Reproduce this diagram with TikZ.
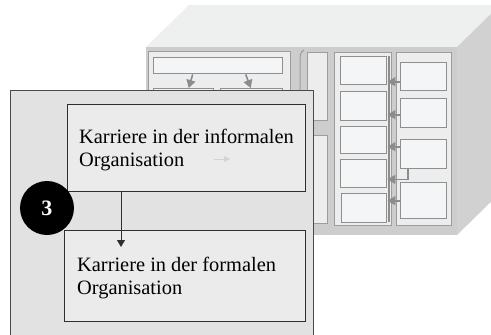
\documentclass[tikz,border=0pt]{standalone}
\usepackage{fontspec}
\setmainfont{Liberation Serif}
\usetikzlibrary{arrows.meta,positioning}
\definecolor{topgray}{HTML}{EEEFEF}
\definecolor{sidegray}{HTML}{D1D1D1}
\definecolor{facegray}{HTML}{CDCDCD}
\definecolor{panelfill}{HTML}{EDEDED}
\definecolor{framegray}{HTML}{9C9C9C}
\definecolor{cellfill}{HTML}{F4F5F6}
\definecolor{cellline}{HTML}{8F8F8F}
\definecolor{flowgray}{HTML}{8C8C8C}
\definecolor{stagefill}{HTML}{E2E2E2}
\definecolor{stageline}{HTML}{4A4A4A}
\definecolor{cardfill}{HTML}{EBEBEB}
\definecolor{cardline}{HTML}{2E2E2E}

\begin{document}
\begin{tikzpicture}[x=1pt, y=-1pt,
    panel/.style={draw=framegray, fill=panelfill, line width=1.2pt, inner sep=0pt, anchor=north west},
    cell/.style={draw=cellline, fill=cellfill, line width=1.4pt, inner sep=0pt, anchor=north west},
    flow/.style={draw=flowgray, line width=1.6pt, -{Triangle[length=8pt, width=9pt]}},
    card/.style={draw=cardline, fill=cardfill, line width=1pt, inner sep=0pt, anchor=north west},
    cardtext/.style={align=left, inner sep=0pt, anchor=west, font=\fontsize{20.4}{23}\selectfont},
    arrow/.style={-{Triangle[length=7pt, width=8pt]}, line width=0.8pt, cardline}
]
\useasboundingbox (0,0) rectangle (491,335);
\clip (0,0) rectangle (491,335);

% === Cuboid ===
\fill[topgray] (146,47) -- (189,5) -- (500,5) -- (457,47) -- cycle;
\fill[sidegray] (457,47) -- (500,5) -- (500,193) -- (457,235) -- cycle;
\fill[facegray] (146,47) rectangle (457,235);

% Left panel
\node[panel, minimum width=142pt, minimum height=174pt] (leftpanel) at (148,51) {};
\node[cell, minimum width=129pt, minimum height=16pt] (topbar) at (153,57) {};
\node[cell, minimum width=60pt, minimum height=40pt] (lowa) at (153,88) {};
\node[cell, minimum width=62pt, minimum height=40pt] (lowb) at (220,88) {};
\draw[flow] ([xshift=-25.5pt]topbar.south) -- ([xshift=5pt]lowa.north);
\draw[flow] ([xshift=27.5pt]topbar.south) -- ([xshift=-1pt]lowb.north);
\draw[framegray, line width=1pt] (304,50) .. controls (300,52) and (300,56) .. (300,62) -- (300,225);

% Narrow column
\node[panel, minimum width=20pt, minimum height=68pt] (narrowa) at (307,52) {};
\node[panel, minimum width=20pt, minimum height=88pt] (narrowb) at (307,135) {};

% Middle column
\node[panel, minimum width=57pt, minimum height=173pt] (midpanel) at (334,52) {};
\node[cell, minimum width=46pt, minimum height=28pt] (m1) at (340,56) {};
\node[cell, minimum width=46pt, minimum height=29pt] (m2) at (340,91) {};
\node[cell, minimum width=46pt, minimum height=27pt] (m3) at (340,126) {};
\node[cell, minimum width=46pt, minimum height=28pt] (m4) at (340,159) {};
\node[cell, minimum width=45pt, minimum height=29pt] (m5) at (341,193) {};
\coordinate (bustop) at (389,56);
\coordinate (busbottom) at (389,222);
\draw[flowgray, line width=2.4pt] (bustop) -- (busbottom);

% Right column
\node[panel, minimum width=55pt, minimum height=173pt] (rightpanel) at (396,52) {};
\node[cell, minimum width=46pt, minimum height=28pt] (r1) at (400,62) {};
\node[cell, minimum width=46pt, minimum height=29pt] (r2) at (400,98) {};
\node[cell, minimum width=46pt, minimum height=29pt] (r3) at (400,139) {};
\node[cell, minimum width=46pt, minimum height=36pt] (r4) at (400,182) {};

\coordinate (a1) at ([yshift=-5pt]r1.west);
\coordinate (a2) at ([yshift=-1.5pt]r2.west);
\coordinate (a3) at ([yshift=7.5pt]r3.west);
\coordinate (a5) at (r4.west);
\coordinate (e3) at ([xshift=-16pt]r3.south);
\coordinate (e4) at ([xshift=-16pt, yshift=-10pt]r3.south);
\draw[flow] (a1) -- (a1 -| m1.east);
\draw[flow] (a2) -- (a2 -| m2.east);
\draw[flow] (a3) -- (a3 -| m3.east);
\draw[flow] (a5) -- (a5 -| m5.east);
\draw[flow] (e3) -- (e4) -- (e4 -| m4.east);

% === Foreground ===
\node[draw=stageline, fill=stagefill, line width=1.4pt, inner sep=0pt, anchor=north west,
      minimum width=303pt, minimum height=260pt] (stage) at (10,90) {};

\node[card, minimum width=238pt, minimum height=87pt] (informal) at (67,104) {};
\node[cardtext] (informaltext) at ([xshift=12pt, yshift=-2pt]informal.west)
    {Karriere in der informalen\\Organisation};
\coordinate (ghosta) at (214,159);
\coordinate (ghostb) at (230,159);
\draw[draw=cardfill!90!black, line width=0.5pt, -{Triangle[length=6pt, width=6pt]}] (ghosta) -- (ghostb);

\node[card, minimum width=241pt, minimum height=91pt] (formal) at (64,230) {};
\node[cardtext] (formaltext) at ([xshift=13pt, yshift=-2pt]formal.west)
    {Karriere in der formalen\\Organisation};

\draw[arrow] ([xshift=54pt]informal.south west) -- ([xshift=57pt, yshift=-17pt]formal.north west);

\node[circle, fill=black, minimum size=54pt, inner sep=0pt, text=white,
      font=\bfseries\fontsize{22}{22}\selectfont] (stepthree) at (47,208) {3};

\end{tikzpicture}
\end{document}
